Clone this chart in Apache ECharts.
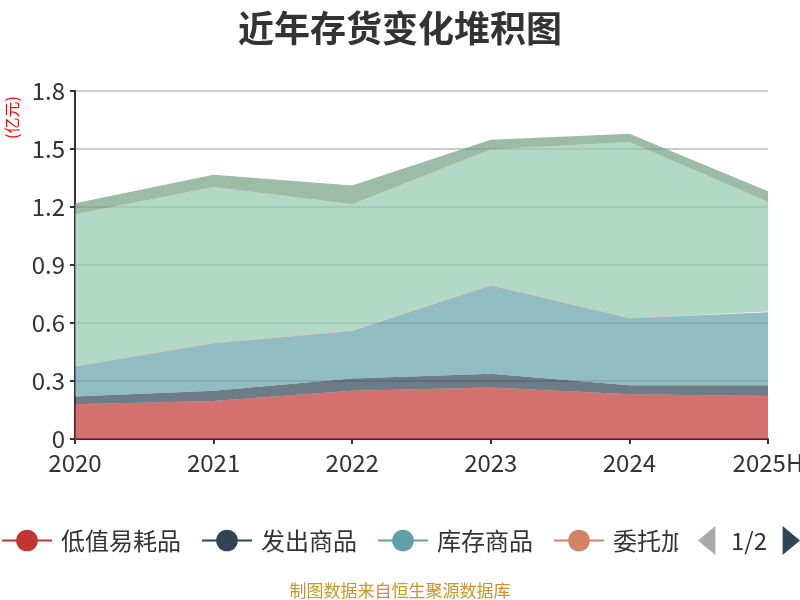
<!DOCTYPE html>
<html>
<head>
<meta charset="utf-8">
<script src="https://cdn.jsdelivr.net/npm/echarts@6/dist/echarts.min.js"></script>
<style>html,body{margin:0;padding:0;background:#fff}#c{width:800px;height:600px}</style>
</head>
<body>
<div id="c"></div>
<script>
var categories = ['2020', '2021', '2022', '2023', '2024', '2025H'];
var lowValue = [0.18, 0.197, 0.249, 0.266, 0.232, 0.222];      // 低值易耗品
var shipped = [0.04, 0.052, 0.064, 0.071, 0.046, 0.056];       // 发出商品
var stock = [0.155, 0.246, 0.245, 0.457, 0.347, 0.378];        // 库存商品
var consigned = [0.003, 0.003, 0.003, 0.003, 0.003, 0.003];    // 委托加工物资
var rawMaterial = [0.785, 0.805, 0.653, 0.701, 0.908, 0.567];  // 原材料
var wip = [0.056, 0.064, 0.097, 0.05, 0.043, 0.055];           // 在产品
var seriesNames = ['低值易耗品', '发出商品', '库存商品', '委托加工物资', '原材料', '在产品'];
var seriesData = [lowValue, shipped, stock, consigned, rawMaterial, wip];
var colors = ['#c23531', '#2f4554', '#61a0a8', '#d48265', '#91c7ae', '#749f83'];
var yTicks = {min: 0, max: 1.8, interval: 0.3};

var font = "'Noto Sans CJK SC', 'Noto Sans', sans-serif";
var chart = echarts.init(document.getElementById('c'));
chart.setOption({
  color: colors,
  textStyle: {fontFamily: font},
  title: [{
    text: '近年存货变化堆积图', left: 'center', top: 5,
    textStyle: {fontSize: 36, fontWeight: 'bold', color: '#333', fontFamily: font}
  }, {
    text: '制图数据来自恒生聚源数据库', left: 'center', top: 577,
    textStyle: {fontSize: 17, fontWeight: 'normal', color: '#c8962a', fontFamily: font}
  }],
  graphic: [{
    type: 'text', x: 4, y: 139, rotation: Math.PI / 2,
    style: {text: '(亿元)', fill: '#ff0000', fontSize: 16, fontFamily: font}
  }],
  legend: {
    type: 'scroll', left: 0, right: 0, top: 521,
    padding: [5, 0, 5, 1],
    itemWidth: 50, itemHeight: 27, itemGap: 20,
    lineStyle: {width: 2},
    textStyle: {fontSize: 24, color: '#333', padding: [0, 0, 0, 4], fontFamily: font},
    pageIconSize: [18, 29],
    pageIconColor: '#2f4554', pageIconInactiveColor: '#aaa',
    pageTextStyle: {fontSize: 24, color: '#333'},
    data: seriesNames
  },
  grid: {left: 75, right: 32, top: 91, bottom: 161, containLabel: false, outerBoundsMode: 'none'},
  xAxis: {
    type: 'category', boundaryGap: false, data: categories,
    axisLine: {lineStyle: {color: '#333', width: 2}},
    axisTick: {lineStyle: {color: '#333', width: 2}},
    axisLabel: {fontSize: 24, color: '#333', margin: 12}
  },
  yAxis: {
    type: 'value', min: yTicks.min, max: yTicks.max, interval: yTicks.interval,
    axisLine: {show: true, lineStyle: {color: '#333', width: 2}},
    axisTick: {show: true, lineStyle: {color: '#333', width: 2}},
    axisLabel: {fontSize: 24, color: '#333', margin: 10},
    splitLine: {lineStyle: {color: '#ccc', width: 2}}
  },
  series: seriesNames.map(function (n, i) {
    return {
      name: n, type: 'line', stack: 'total', data: seriesData[i],
      symbol: 'circle', showSymbol: false,
      lineStyle: {width: 0},
      areaStyle: {opacity: 0.7},
      emphasis: {disabled: true}
    };
  })
});
</script>
</body>
</html>
